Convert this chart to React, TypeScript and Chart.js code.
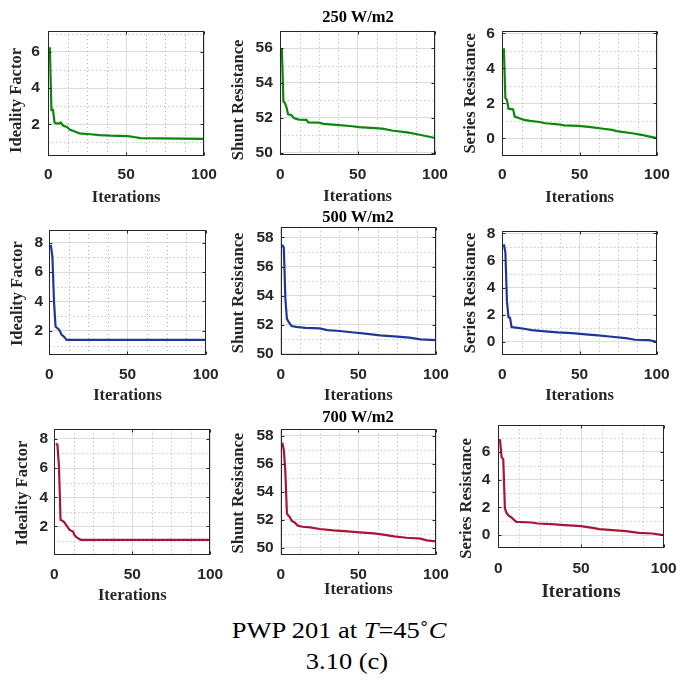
import React, { useEffect, useRef } from "react";
import { Chart, registerables } from "chart.js";

Chart.register(...registerables);

// ---------- data ----------
const xTicks = [0, 50, 100];
const xMinorTicks = [12.5, 25, 37.5, 62.5, 75, 87.5];

// 250 W/m2
const ideal250It = [1, 2, 3, 4, 5, 7, 8, 9, 10, 12, 14, 17, 20, 27, 33, 40, 51, 55, 59, 100];
const ideal250 = [6.25, 2.8, 2.8, 2.1, 2.05, 2.05, 2.1, 1.98, 1.9, 1.85, 1.7, 1.6, 1.5, 1.45, 1.4, 1.37, 1.35, 1.3, 1.24, 1.2];
const shunt250It = [1, 2, 3, 4, 5, 7, 9, 12, 17, 18, 25, 28, 36, 45, 51, 66, 73, 82, 86, 94, 100];
const shunt250 = [56.0, 52.93, 52.85, 52.6, 52.2, 52.16, 51.97, 51.9, 51.88, 51.74, 51.72, 51.65, 51.6, 51.53, 51.47, 51.38, 51.26, 51.17, 51.1, 50.96, 50.84];
const series250It = [1, 2, 3, 4, 7, 8, 11, 14, 18, 24, 28, 36, 40, 49, 56, 64, 71, 75, 84, 90, 93, 100];
const series250 = [5.15, 2.3, 2.2, 1.7, 1.66, 1.25, 1.15, 1.06, 1.0, 0.94, 0.87, 0.81, 0.75, 0.72, 0.66, 0.57, 0.49, 0.4, 0.3, 0.21, 0.15, 0.02];

// 500 W/m2
const ideal500It = [1, 2, 3, 4, 5, 6, 7, 8, 9, 10, 11, 100];
const ideal500 = [7.84, 7.0, 4.0, 2.3, 2.2, 2.12, 1.95, 1.72, 1.65, 1.55, 1.4, 1.4];
const shunt500It = [1, 2, 3, 4, 5, 7, 10, 16, 25, 30, 38, 47, 53, 64, 75, 83, 90, 100];
const shunt500 = [57.5, 57.3, 53.8, 52.4, 52.2, 51.9, 51.85, 51.78, 51.74, 51.62, 51.56, 51.46, 51.4, 51.26, 51.17, 51.1, 50.98, 50.94];
const series500It = [1, 2, 3, 4, 5, 6, 9, 15, 19, 26, 36, 45, 54, 62, 71, 80, 86, 95, 100];
const series500 = [7.2, 6.6, 3.0, 1.8, 1.78, 1.09, 1.04, 0.94, 0.86, 0.79, 0.69, 0.64, 0.54, 0.47, 0.37, 0.27, 0.15, 0.12, 0.0];

// 700 W/m2
const ideal700It = [1, 2, 3, 4, 6, 7, 9, 10, 12, 13, 15, 17, 100];
const ideal700 = [7.67, 7.6, 6.1, 2.46, 2.34, 2.2, 1.89, 1.75, 1.66, 1.4, 1.2, 1.09, 1.09];
const shunt700It = [1, 2, 3, 4, 5, 6, 7, 9, 11, 14, 19, 25, 34, 43, 51, 60, 66, 73, 81, 90, 94, 100];
const shunt700 = [57.5, 57.0, 55.4, 52.45, 52.3, 52.18, 51.94, 51.82, 51.59, 51.51, 51.47, 51.35, 51.25, 51.18, 51.11, 51.04, 50.95, 50.83, 50.73, 50.66, 50.54, 50.47];
const series700It = [1, 2, 3, 4, 5, 6, 8, 10, 11, 20, 24, 32, 40, 48, 50, 57, 61, 69, 77, 85, 93, 100];
const series700 = [6.9, 5.6, 5.47, 1.92, 1.6, 1.44, 1.27, 1.05, 0.96, 0.91, 0.84, 0.79, 0.72, 0.67, 0.65, 0.53, 0.43, 0.36, 0.29, 0.17, 0.12, 0.0];

// tick labels
const idealTicks6 = [2, 4, 6];
const idealTicks8 = [2, 4, 6, 8];
const shuntTicks56 = [50, 52, 54, 56];
const shuntTicks58 = [50, 52, 54, 56, 58];
const seriesTicks6 = [0, 2, 4, 6];
const seriesTicks8 = [0, 2, 4, 6, 8];
const oddMinor = [1, 3, 5, 7];
const shuntMinor = [51, 53, 55, 57];

const irradianceTitles = ["250 W/m2", "500 W/m2", "700 W/m2"];
const yTitles = ["Ideality Factor", "Shunt Resistance", "Series Resistance"];
const xTitle = "Iterations";

// ---------- styling / layout ----------
const GREEN = "#0b870b";
const BLUE = "#1f3898";
const RED = "#a8143a";
const TXT = "#262626";

type PanelSpec = {
  xs: number[]; ys: number[]; color: string; yTitle: string;
  yMin: number; yMax: number; yTicks: number[]; yMinor: number[];
  L: number; R: number; T: number; B: number;
  titleCx: number; gap: number; xTickC: number; xTitleOff: number;
  xTitleSize: number; yTitleShift: number;
};

const panels: PanelSpec[] = [
  { xs: ideal250It, ys: ideal250, color: GREEN, yTitle: yTitles[0], yMin: 0.25, yMax: 7.15, yTicks: idealTicks6, yMinor: oddMinor,
    L: 48.3, R: 204, T: 31, B: 156, titleCx: 16.7, gap: 8.5, xTickC: 19, xTitleOff: 41.3, xTitleSize: 16.5, yTitleShift: 7 },
  { xs: shunt250It, ys: shunt250, color: GREEN, yTitle: yTitles[1], yMin: 49.85, yMax: 57.0, yTicks: shuntTicks56, yMinor: shuntMinor,
    L: 280.3, R: 435, T: 30.7, B: 155.3, titleCx: 239, gap: 7.5, xTickC: 19.7, xTitleOff: 41.4, xTitleSize: 16.5, yTitleShift: 7 },
  { xs: series250It, ys: series250, color: GREEN, yTitle: yTitles[2], yMin: -1, yMax: 6.15, yTicks: seriesTicks6, yMinor: [1, 3, 5],
    L: 502.3, R: 657, T: 30.7, B: 156, titleCx: 471, gap: 7.5, xTickC: 19, xTitleOff: 41.3, xTitleSize: 16.5, yTitleShift: 0 },
  { xs: ideal500It, ys: ideal500, color: BLUE, yTitle: yTitles[0], yMin: 0.35, yMax: 8.85, yTicks: idealTicks8, yMinor: oddMinor,
    L: 49.3, R: 205.7, T: 230, B: 355.3, titleCx: 17.8, gap: 6.2, xTickC: 19, xTitleOff: 40.4, xTitleSize: 16.5, yTitleShift: 1 },
  { xs: shunt500It, ys: shunt500, color: BLUE, yTitle: yTitles[1], yMin: 49.93, yMax: 58.7, yTicks: shuntTicks58, yMinor: shuntMinor,
    L: 280.7, R: 436, T: 227.3, B: 354.7, titleCx: 239.2, gap: 7, xTickC: 20.3, xTitleOff: 41, xTitleSize: 16.5, yTitleShift: 2 },
  { xs: series500It, ys: series500, color: BLUE, yTitle: yTitles[2], yMin: -1, yMax: 8.2, yTicks: seriesTicks8, yMinor: oddMinor,
    L: 502.3, R: 656.7, T: 230.7, B: 355.3, titleCx: 470.3, gap: 7, xTickC: 19, xTitleOff: 40.4, xTitleSize: 16.5, yTitleShift: 0 },
  { xs: ideal700It, ys: ideal700, color: RED, yTitle: yTitles[0], yMin: 0.05, yMax: 8.65, yTicks: idealTicks8, yMinor: oddMinor,
    L: 54.3, R: 210.3, T: 429.3, B: 555, titleCx: 22.5, gap: 6.2, xTickC: 19.3, xTitleOff: 40.7, xTitleSize: 16.5, yTitleShift: 1 },
  { xs: shunt700It, ys: shunt700, color: RED, yTitle: yTitles[1], yMin: 49.5, yMax: 58.45, yTicks: shuntTicks58, yMinor: shuntMinor,
    L: 280.7, R: 436, T: 429.3, B: 555, titleCx: 239.2, gap: 7, xTickC: 20, xTitleOff: 35, xTitleSize: 16.5, yTitleShift: 1 },
  { xs: series700It, ys: series700, color: RED, yTitle: yTitles[2], yMin: -0.9, yMax: 7.9, yTicks: seriesTicks6, yMinor: oddMinor,
    L: 498.3, R: 663.7, T: 425.3, B: 547.7, titleCx: 466.7, gap: 8, xTickC: 20.6, xTitleOff: 44, xTitleSize: 19, yTitleShift: 12 },
];

const TICK_SIZE = 15.5;
const TICK_FONT = { family: "'Liberation Sans', Arial, sans-serif", size: TICK_SIZE, weight: "bold" as const };
const TITLE_FAMILY = "'Liberation Serif', 'Times New Roman', serif";
const AXIS_TITLE_SIZE = 16.5;

function geometry(p: PanelSpec) {
  const yLh = AXIS_TITLE_SIZE * 1.2;
  const xLh = p.xTitleSize * 1.2;
  const left = Math.floor(p.titleCx - yLh / 2);
  const yTitlePad = p.titleCx - yLh / 2 - left;
  const top = Math.floor(p.T - 12);
  const right = Math.min(676, Math.ceil(p.R + 16));
  const Hx = Math.ceil(p.xTitleOff + xLh / 2);
  const xTitlePadBottom = Hx - p.xTitleOff - xLh / 2;
  const bottom = Math.ceil(p.B + Hx);
  return {
    left, top, width: right - left, height: bottom - top,
    yW: p.L - left, yTitlePad, Hx, xTitlePadBottom,
    padTop: p.T - top, padRight: right - p.R, padBottom: bottom - (p.B + Hx),
  };
}

const framePlugin = {
  id: "frame",
  beforeDraw(chart: any, _args: any, opts: any) {
    const ys = chart.scales.y;
    if (ys && !ys.__shifted) {
      const orig = ys.drawTitle;
      ys.drawTitle = function (this: any) {
        const c = this.ctx;
        c.save();
        c.translate(0, opts.yTitleShift || 0);
        orig.call(this);
        c.restore();
      };
      ys.__shifted = true;
    }
  },
  beforeDatasetsDraw(chart: any, _args: any, opts: any) {
    const { ctx, chartArea: a, scales } = chart;
    ctx.save();
    ctx.strokeStyle = "#b0b0b0";
    ctx.lineWidth = 1;
    ctx.setLineDash([1, 3]);
    for (const v of opts.xMinor) {
      const px = Math.round(scales.x.getPixelForValue(v)) + 0.5;
      ctx.beginPath(); ctx.moveTo(px, a.top); ctx.lineTo(px, a.bottom); ctx.stroke();
    }
    for (const v of opts.yMinor) {
      if (v <= scales.y.min || v >= scales.y.max) continue;
      const py = Math.round(scales.y.getPixelForValue(v)) + 0.5;
      ctx.beginPath(); ctx.moveTo(a.left, py); ctx.lineTo(a.right, py); ctx.stroke();
    }
    ctx.restore();
  },
  afterDatasetsDraw(chart: any) {
    const { ctx, chartArea: a, scales } = chart;
    ctx.save();
    ctx.strokeStyle = TXT;
    ctx.lineWidth = 1;
    const l = Math.round(a.left) + 0.5, r = Math.round(a.right) - 0.5;
    const t = Math.round(a.top) + 0.5, b = Math.round(a.bottom) - 0.5;
    ctx.strokeRect(l, t, r - l, b - t);
    const tl = 3;
    ctx.beginPath();
    for (const tk of scales.x.ticks) {
      const px = Math.round(scales.x.getPixelForValue(tk.value)) + 0.5;
      ctx.moveTo(px, b); ctx.lineTo(px, b - tl);
      ctx.moveTo(px, t); ctx.lineTo(px, t + tl);
    }
    for (const tk of scales.y.ticks) {
      const py = Math.round(scales.y.getPixelForValue(tk.value)) + 0.5;
      ctx.moveTo(l, py); ctx.lineTo(l + tl, py);
      ctx.moveTo(r, py); ctx.lineTo(r - tl, py);
    }
    ctx.stroke();
    ctx.restore();
  },
};

function Panel({ p }: { p: PanelSpec }) {
  const ref = useRef<HTMLCanvasElement>(null);
  const g = geometry(p);
  useEffect(() => {
    if (!ref.current) return;
    const chart = new Chart(ref.current, {
      type: "line",
      data: {
        datasets: [{
          data: p.xs.map((x, i) => ({ x, y: p.ys[i] })),
          borderColor: p.color,
          borderWidth: 2.2,
          pointRadius: 0,
          tension: 0,
          fill: false,
        }],
      },
      options: {
        animation: false,
        responsive: false,
        events: [],
        layout: { autoPadding: false, padding: { left: 0, top: g.padTop, right: g.padRight, bottom: g.padBottom } },
        plugins: {
          legend: { display: false },
          tooltip: { enabled: false },
          frame: { xMinor: xMinorTicks, yMinor: p.yMinor, yTitleShift: p.yTitleShift },
        } as any,
        scales: {
          x: {
            type: "linear",
            min: 0, max: 100,
            afterBuildTicks: (s: any) => { s.ticks = xTicks.map((v) => ({ value: v })); },
            afterFit: (s: any) => { s.height = g.Hx; s.paddingLeft = 0; s.paddingRight = 0; },
            ticks: { font: TICK_FONT, color: TXT, padding: p.xTickC - TICK_SIZE * 0.6, maxRotation: 0, autoSkip: false },
            grid: { color: "#dcdcdc", lineWidth: 1, drawTicks: false },
            border: { display: false },
            title: {
              display: true, text: xTitle, color: TXT,
              font: { family: TITLE_FAMILY, size: p.xTitleSize, weight: "bold" },
              padding: { top: 0, bottom: g.xTitlePadBottom },
            },
          },
          y: {
            type: "linear",
            min: p.yMin, max: p.yMax,
            afterBuildTicks: (s: any) => { s.ticks = p.yTicks.map((v) => ({ value: v })); },
            afterFit: (s: any) => { s.width = g.yW; s.paddingTop = 0; s.paddingBottom = 0; },
            ticks: { font: TICK_FONT, color: TXT, padding: p.gap, autoSkip: false },
            grid: { color: "#dcdcdc", lineWidth: 1, drawTicks: false },
            border: { display: false },
            title: {
              display: true, text: p.yTitle, color: TXT,
              font: { family: TITLE_FAMILY, size: AXIS_TITLE_SIZE, weight: "bold" },
              padding: { top: g.yTitlePad, bottom: 0 },
            },
          },
        },
      },
      plugins: [framePlugin as any],
    });
    return () => chart.destroy();
  }, []);
  return (
    <canvas
      ref={ref}
      width={g.width}
      height={g.height}
      style={{ position: "absolute", left: g.left, top: g.top, width: g.width, height: g.height }}
    />
  );
}

const titleBaselines = [22.7, 222.8, 422.7];
const titleCenterX = 358;

export default function App() {
  return (
    <div style={{ position: "absolute", left: 0, top: 0, width: 676, height: 680, background: "#fff", overflow: "hidden" }}>
      {panels.map((p, i) => <Panel key={i} p={p} />)}
      {irradianceTitles.map((t, i) => (
        <div key={t} style={{
          position: "absolute", left: titleCenterX - 100, width: 200, top: titleBaselines[i] - 15.57,
          textAlign: "center", fontFamily: TITLE_FAMILY, fontWeight: "bold", fontSize: 16.5, lineHeight: "20px", color: "#000",
        }}>{t}</div>
      ))}
      <div style={{
        position: "absolute", left: 339.2 - 200, width: 400, top: 639 - 21.76, textAlign: "center",
        fontFamily: TITLE_FAMILY, fontSize: 23, lineHeight: "28px", color: "#000", transform: "scaleX(1.15)",
      }}>PWP 201 at <i>T</i>=45˚<i>C</i></div>
      <div style={{
        position: "absolute", left: 346.8 - 200, width: 400, top: 670 - 21.76, textAlign: "center",
        fontFamily: TITLE_FAMILY, fontSize: 23, lineHeight: "28px", color: "#000", transform: "scaleX(1.15)",
      }}>3.10 (c)</div>
    </div>
  );
}
